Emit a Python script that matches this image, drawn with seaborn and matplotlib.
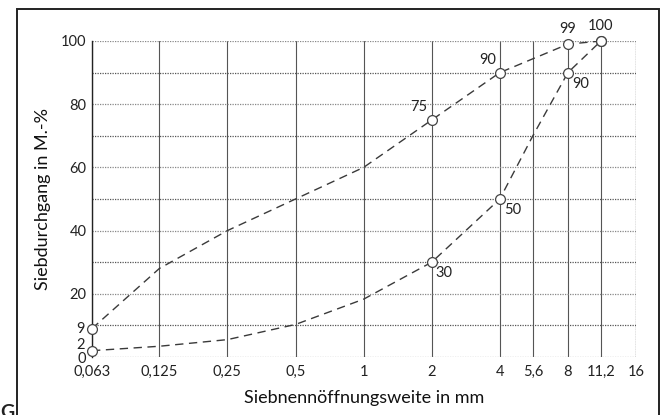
import numpy as np
import pandas as pd
import matplotlib
matplotlib.use("Agg")
import matplotlib.pyplot as plt
from matplotlib.patches import Rectangle
from matplotlib.ticker import FixedLocator, NullLocator
import seaborn as sns

# ---- data ----
x_ticks = [0.063, 0.125, 0.25, 0.5, 1, 2, 4, 5.6, 8, 11.2, 16]
x_tick_labels = ["0,063", "0,125", "0,25", "0,5", "1", "2", "4", "5,6", "8", "11,2", "16"]

upper_x = [0.063, 0.125, 0.25, 0.5, 1, 2, 4, 8, 11.2]
upper_y = [9, 28, 40, 50, 60, 75, 90, 99, 100]
upper_mark_x = [0.063, 2, 4, 8, 11.2]
upper_mark_y = [9, 75, 90, 99, 100]

lower_x = [0.063, 0.125, 0.25, 0.5, 1, 2, 4, 5.6, 8, 11.2]
lower_y = [2, 3.4, 5.5, 10.3, 18.3, 30, 50, 70, 90, 100]
lower_mark_x = [0.063, 2, 4, 8, 11.2]
lower_mark_y = [2, 30, 50, 90, 100]

y_ticks = [0, 20, 40, 60, 80, 100]

sns.set_theme(style="white")
plt.rcParams["font.family"] = ["Lato", "DejaVu Sans"]

fig = plt.figure(figsize=(6.70, 4.15), dpi=100)
fig.patch.set_facecolor("white")
ax = fig.add_axes([92/670, 1-357/415, 544/670, 316/415])

ax.set_xscale("log", base=2)
ax.set_xlim(0.063, 16)
ax.set_ylim(0, 100)

# grid
for xv in x_ticks:
    ax.axvline(xv, color="#555555", lw=0.8, zorder=1)
for yv in range(10, 101, 10):
    ax.axhline(yv, color="#555555" if yv % 20 else "#888888", lw=0.9,
               ls=(0, (1, 1)), zorder=1)
ax.axhline(0, color="#888888", lw=0.9, ls=(0, (1, 1)), zorder=1)

dfu = pd.DataFrame({"x": upper_x, "y": upper_y})
dfl = pd.DataFrame({"x": lower_x, "y": lower_y})
for df in (dfu, dfl):
    sns.lineplot(data=df, x="x", y="y", ax=ax, color="#3a3a3a", lw=1.0,
                 dashes=False, sort=False, zorder=3)
for line in ax.get_lines()[-2:]:
    line.set_dashes((6, 4))

mk = pd.DataFrame({"x": upper_mark_x + lower_mark_x, "y": upper_mark_y + lower_mark_y})
sns.scatterplot(data=mk, x="x", y="y", ax=ax, s=50, color="white",
                edgecolor="#444444", linewidth=0.9, zorder=5)
for coll in ax.collections:
    coll.set_clip_on(False)

# annotations
fs = 10.5
lab = dict(fontsize=fs, color="#222222", zorder=6)
ax.annotate("9", (0.063, 9), xytext=(-5, 0), textcoords="offset points", ha="right", va="center", annotation_clip=False, **lab)
ax.annotate("2", (0.063, 2), xytext=(-5, 4), textcoords="offset points", ha="right", va="center", annotation_clip=False, **lab)
ax.annotate("75", (2, 75), xytext=(-3, 4), textcoords="offset points", ha="right", va="bottom", **lab)
ax.annotate("90", (4, 90), xytext=(-3, 4), textcoords="offset points", ha="right", va="bottom", **lab)
ax.annotate("99", (8, 99), xytext=(0, 6), textcoords="offset points", ha="center", va="bottom", annotation_clip=False, **lab)
ax.annotate("100", (11.2, 100), xytext=(0, 6), textcoords="offset points", ha="center", va="bottom", annotation_clip=False, **lab)
ax.annotate("90", (8, 90), xytext=(3, -3), textcoords="offset points", ha="left", va="top", **lab)
ax.annotate("50", (4, 50), xytext=(3, -3), textcoords="offset points", ha="left", va="top", **lab)
ax.annotate("30", (2, 30), xytext=(3, -3), textcoords="offset points", ha="left", va="top", **lab)

ax.xaxis.set_major_locator(FixedLocator(x_ticks))
ax.xaxis.set_minor_locator(NullLocator())
ax.set_xticklabels(x_tick_labels)
ax.set_yticks(y_ticks)
ax.set_yticklabels([str(v) for v in y_ticks])
ax.tick_params(axis="both", labelsize=fs, colors="#222222", length=0, pad=6)
ax.tick_params(axis="y", pad=4)

ax.set_xlabel("Siebnennöffnungsweite in mm", fontsize=13, color="#111111", labelpad=8)
ax.set_ylabel("Siebdurchgang in M.-%", fontsize=13, color="#111111", labelpad=7)

for side in ["top", "right", "bottom"]:
    ax.spines[side].set_visible(False)
ax.spines["left"].set_color("#222222")
ax.spines["left"].set_linewidth(1.0)
ax.spines["left"].set_zorder(4)
ax.axvline(16, color="#666666", lw=0.9, ls=(0, (1, 1)), zorder=1)

# outer frame of the scanned figure
fig.add_artist(Rectangle((17/670, -0.05), (659-17)/670, 1 - 9/415 + 0.05,
                         transform=fig.transFigure, fill=False,
                         edgecolor="#222222", lw=1.4))
fig.text(0/670, -6/415, "G", fontsize=14, fontweight="bold", color="#222222",
         ha="left", va="bottom")

fig.savefig("out.png", dpi=100)
